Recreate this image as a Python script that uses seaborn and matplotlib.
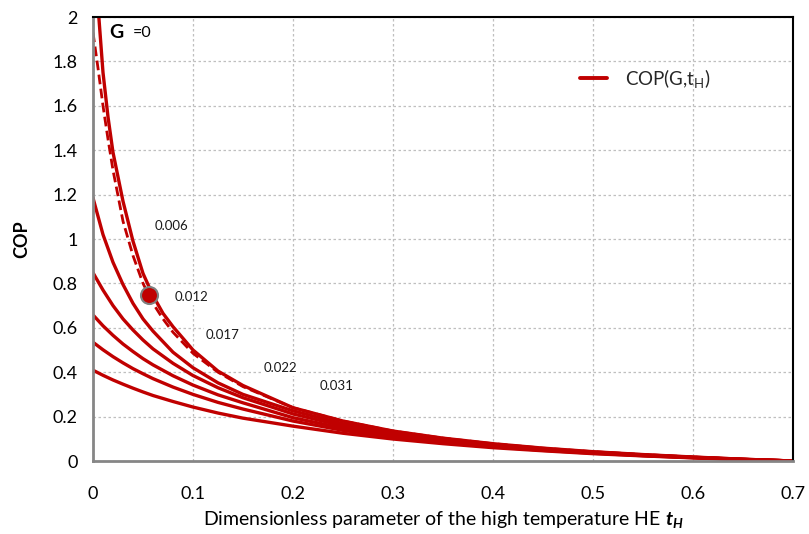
import numpy as np
import pandas as pd
import seaborn as sns
import matplotlib
matplotlib.use("Agg")
import matplotlib.pyplot as plt
from matplotlib.lines import Line2D

# ---------------- data ----------------
t_dense = [0, 0.005, 0.01, 0.015, 0.02, 0.03, 0.04, 0.05, 0.06, 0.07, 0.08, 0.1,
           0.125, 0.15, 0.2, 0.25, 0.3, 0.35, 0.4, 0.45, 0.5, 0.55, 0.6, 0.65, 0.7]
cop_g0 = [2.35, 2.05, 1.75, 1.55, 1.39, 1.17, 0.99, 0.845, 0.745, 0.665, 0.605, 0.50,
          0.405, 0.34, 0.24, 0.180, 0.135, 0.103, 0.078, 0.058, 0.042, 0.029, 0.018, 0.008, 0.0]
cop_dashed = [1.93, 1.77, 1.60, 1.45, 1.31, 1.08, 0.925, 0.80, 0.71, 0.64, 0.58, 0.485,
              0.40, 0.335, 0.24, 0.180, 0.135, 0.103, 0.078, 0.058, 0.042, 0.029, 0.018, 0.008, 0.0]

t_grid = [0, 0.01, 0.02, 0.03, 0.04, 0.05, 0.06, 0.08, 0.1, 0.125, 0.15, 0.2,
          0.25, 0.3, 0.35, 0.4, 0.45, 0.5, 0.55, 0.6, 0.65, 0.7]
cop_g006 = [1.185, 1.02, 0.895, 0.795, 0.71, 0.64, 0.585, 0.49, 0.42, 0.352, 0.30, 0.226,
            0.168, 0.128, 0.098, 0.074, 0.055, 0.040, 0.028, 0.017, 0.008, 0.0]
cop_g012 = [0.848, 0.77, 0.70, 0.64, 0.59, 0.545, 0.505, 0.44, 0.385, 0.33, 0.285, 0.212,
            0.158, 0.121, 0.093, 0.071, 0.053, 0.038, 0.026, 0.016, 0.007, 0.0]
cop_g017 = [0.658, 0.609, 0.566, 0.527, 0.493, 0.461, 0.433, 0.384, 0.342, 0.298, 0.262, 0.195,
            0.148, 0.114, 0.088, 0.067, 0.050, 0.037, 0.025, 0.016, 0.007, 0.0]
cop_g022 = [0.535, 0.501, 0.470, 0.442, 0.416, 0.393, 0.371, 0.333, 0.300, 0.264, 0.234, 0.180,
            0.138, 0.107, 0.083, 0.064, 0.048, 0.035, 0.024, 0.015, 0.007, 0.0]
cop_g031 = [0.409, 0.386, 0.365, 0.346, 0.328, 0.311, 0.295, 0.268, 0.243, 0.216, 0.193, 0.157,
            0.125, 0.099, 0.078, 0.060, 0.046, 0.033, 0.023, 0.014, 0.006, 0.0]

point_t = [0.056]
point_cop = [0.746]

g_labels = ["0.006", "0.012", "0.017", "0.022", "0.031"]
g_label_t = [0.062, 0.082, 0.113, 0.171, 0.227]
g_label_cop = [1.058, 0.739, 0.568, 0.419, 0.338]

x_ticks = [0, 0.1, 0.2, 0.3, 0.4, 0.5, 0.6, 0.7]
x_ticklabels = ["0", "0.1", "0.2", "0.3", "0.4", "0.5", "0.6", "0.7"]
y_ticks = [0, 0.2, 0.4, 0.6, 0.8, 1.0, 1.2, 1.4, 1.6, 1.8, 2.0]
y_ticklabels = ["0", "0.2", "0.4", "0.6", "0.8", "1", "1.2", "1.4", "1.6", "1.8", "2"]

# ---------------- style ----------------
sns.set_theme(style="white")
plt.rcParams['font.family'] = ['Lato', 'DejaVu Sans']
plt.rcParams['mathtext.fontset'] = 'custom'
plt.rcParams['mathtext.rm'] = 'Lato'
plt.rcParams['mathtext.it'] = 'Lato:italic'
plt.rcParams['mathtext.bf'] = 'Lato:bold'
plt.rcParams['mathtext.bfit'] = 'Lato:bold:italic'

RED = "#C00000"
GRID = "#BFBFBF"
AXIS_GRAY = "#868686"

fig = plt.figure(figsize=(8.09, 5.34), dpi=100)
ax = fig.add_axes([93 / 809, 73 / 534, 700 / 809, 444 / 534])

# dashed curve (under solid)
sns.lineplot(x=t_dense, y=cop_dashed, ax=ax, color=RED, lw=2.0, legend=False,
             estimator=None, sort=False, dashes=False, linestyle=(0, (3.5, 1.6)))
# solid curves
for vals in [cop_g031, cop_g022, cop_g017, cop_g012, cop_g006]:
    sns.lineplot(x=t_grid, y=vals, ax=ax, color=RED, lw=2.4, legend=False,
                 estimator=None, sort=False)
sns.lineplot(x=t_dense, y=cop_g0, ax=ax, color=RED, lw=2.4, legend=False,
             estimator=None, sort=False)

# highlighted point
sns.scatterplot(x=point_t, y=point_cop, ax=ax, s=150, color=RED, edgecolor="#7F7F7F",
                linewidth=1.5, zorder=5, legend=False)

# G labels
for lab, tx, ty in zip(g_labels, g_label_t, g_label_cop):
    ax.text(tx, ty, lab, fontsize=9.5, ha="left", va="center", color="#1a1a1a",
            bbox=dict(facecolor="white", edgecolor="none", pad=1.5), zorder=4)

ax.text(0.016, 1.93, "G", fontsize=14, fontweight="bold", ha="left", va="center", color="black")
ax.text(0.040, 1.93, "=0", fontsize=11.5, ha="left", va="center", color="black")

ax.set_xlim(0, 0.7)
ax.set_ylim(0, 2)
ax.set_xticks(x_ticks)
ax.set_xticklabels(x_ticklabels)
ax.set_yticks(y_ticks)
ax.set_yticklabels(y_ticklabels)
ax.tick_params(axis="both", direction="out", length=5, width=1.5, color=AXIS_GRAY,
               labelsize=13, labelcolor="black", pad=6)
ax.tick_params(axis="x", pad=13)

ax.grid(True, color=GRID, linestyle=(0, (2, 2)), linewidth=0.9)
ax.set_axisbelow(True)

for side in ["left", "bottom"]:
    ax.spines[side].set_color(AXIS_GRAY)
    ax.spines[side].set_linewidth(2.0)
for side in ["top", "right"]:
    ax.spines[side].set_color("black")
    ax.spines[side].set_linewidth(1.5)

ax.set_xlabel(r"Dimensionless parameter of the high temperature HE $\mathbfit{t}_{\mathbfit{H}}$",
              fontsize=14, labelpad=5, color="black")
ax.set_ylabel("COP", fontsize=13, fontweight="bold", labelpad=16, color="black")

handle = Line2D([0], [0], color=RED, lw=2.8)
leg = ax.legend([handle], [r"COP(G,t$_{\mathrm{H}}$)"], loc="center left",
                bbox_to_anchor=(0.672, 0.862), frameon=False, fontsize=13.5,
                handlelength=1.4, handletextpad=1.0)

fig.savefig("out.png", dpi=100)
